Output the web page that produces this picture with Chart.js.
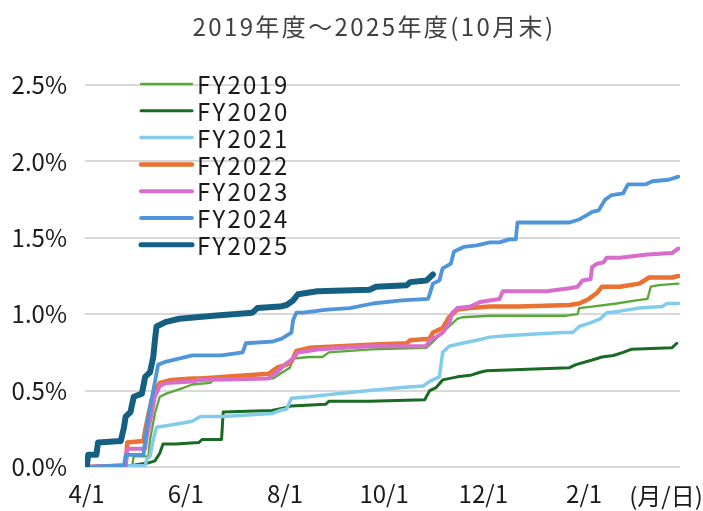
<!DOCTYPE html>
<html lang="ja">
<head>
<meta charset="utf-8">
<script src="https://cdn.jsdelivr.net/npm/chart.js@4/dist/chart.umd.min.js"></script>
<style>
  html, body { margin: 0; padding: 0; background: #fff; }
  #wrap { width: 703px; height: 511px; }
</style>
</head>
<body>
<div id="wrap"><canvas id="fyChart" width="703" height="511"></canvas></div>
<script>
// 4/1からの経過日数, 累計値(%)
const tickDays = [0, 61, 122, 183, 244, 306];
const tickLabels = ["4/1", "6/1", "8/1", "10/1", "12/1", "2/1"];
const seriesNames = ["FY2019", "FY2020", "FY2021", "FY2022", "FY2023", "FY2024", "FY2025"];

const fy2019 = [[0,0],[28,0.01],[29,0.07],[38,0.07],[39,0.18],[42,0.35],[45,0.46],[49,0.48],[60,0.52],[65,0.54],[76,0.55],[78,0.57],[115,0.58],[119,0.61],[125,0.65],[127,0.71],[137,0.72],[145,0.72],[149,0.75],[162,0.76],[175,0.77],[209,0.78],[215,0.84],[219,0.88],[223,0.92],[228,0.97],[231,0.98],[248,0.99],[295,0.99],[302,1.00],[303,1.04],[311,1.05],[326,1.07],[338,1.09],[345,1.10],[347,1.18],[352,1.19],[364,1.20]];
const fy2020 = [[0,0],[28,0.01],[39,0.03],[42,0.04],[45,0.09],[47,0.15],[55,0.15],[69,0.16],[71,0.18],[83,0.18],[84,0.36],[114,0.37],[123,0.39],[126,0.40],[147,0.41],[149,0.43],[174,0.43],[208,0.44],[211,0.50],[215,0.52],[219,0.57],[228,0.59],[236,0.60],[242,0.62],[246,0.63],[297,0.65],[301,0.67],[311,0.70],[317,0.72],[324,0.73],[330,0.75],[335,0.77],[360,0.78],[363,0.81]];
const fy2021 = [[0,0],[36,0.01],[37,0.05],[39,0.07],[41,0.18],[43,0.26],[49,0.27],[60,0.29],[65,0.30],[70,0.33],[84,0.33],[114,0.35],[119,0.37],[123,0.38],[126,0.45],[137,0.46],[154,0.48],[174,0.50],[194,0.52],[207,0.53],[211,0.56],[217,0.59],[219,0.75],[223,0.79],[231,0.81],[240,0.83],[248,0.85],[260,0.86],[293,0.88],[299,0.88],[303,0.92],[309,0.94],[316,0.97],[320,1.01],[328,1.02],[340,1.04],[354,1.05],[357,1.07],[364,1.07]];
const fy2022 = [[0,0],[24,0.01],[25,0.16],[35,0.17],[36,0.24],[40,0.44],[42,0.50],[45,0.55],[52,0.57],[65,0.58],[70,0.58],[112,0.61],[117,0.65],[123,0.67],[126,0.69],[129,0.76],[137,0.78],[174,0.80],[197,0.81],[199,0.83],[211,0.84],[213,0.88],[219,0.91],[223,0.98],[228,1.03],[236,1.04],[248,1.05],[266,1.05],[297,1.06],[303,1.07],[309,1.10],[314,1.14],[317,1.18],[328,1.18],[340,1.20],[346,1.24],[360,1.24],[364,1.25]];
const fy2023 = [[0,0],[24,0.01],[25,0.12],[36,0.12],[37,0.20],[40,0.35],[42,0.46],[45,0.53],[49,0.55],[65,0.56],[70,0.57],[112,0.58],[117,0.62],[123,0.68],[126,0.70],[130,0.75],[143,0.77],[174,0.79],[209,0.79],[211,0.83],[215,0.85],[219,0.88],[223,0.94],[225,1.01],[228,1.04],[236,1.05],[242,1.08],[254,1.10],[256,1.15],[283,1.15],[297,1.17],[302,1.18],[305,1.22],[310,1.23],[311,1.31],[314,1.33],[318,1.34],[320,1.37],[328,1.37],[345,1.39],[360,1.40],[364,1.43]];
const fy2024 = [[0,0],[23,0.01],[24,0.08],[35,0.08],[36,0.18],[38,0.33],[41,0.50],[44,0.67],[49,0.69],[65,0.73],[83,0.73],[96,0.75],[98,0.81],[114,0.82],[120,0.84],[126,0.88],[127,0.96],[129,1.01],[133,1.01],[148,1.03],[162,1.04],[176,1.07],[194,1.09],[210,1.10],[211,1.13],[213,1.20],[217,1.22],[219,1.30],[224,1.33],[226,1.41],[232,1.44],[240,1.45],[248,1.47],[254,1.47],[260,1.49],[264,1.49],[265,1.60],[297,1.60],[303,1.62],[308,1.65],[311,1.67],[315,1.68],[319,1.75],[323,1.78],[330,1.79],[333,1.85],[344,1.85],[348,1.87],[358,1.88],[364,1.90]];
const fy2025 = [[0,0],[1,0.08],[6,0.08],[7,0.16],[21,0.17],[23,0.26],[24,0.33],[27,0.36],[29,0.46],[34,0.48],[36,0.59],[39,0.62],[41,0.72],[42,0.83],[43,0.92],[49,0.95],[57,0.97],[78,0.99],[102,1.01],[105,1.04],[119,1.05],[123,1.06],[127,1.09],[130,1.13],[142,1.15],[174,1.16],[178,1.18],[197,1.19],[199,1.21],[209,1.22],[213,1.26]];

const seriesData = [fy2019, fy2020, fy2021, fy2022, fy2023, fy2024, fy2025];
const lineColors = ["#58a83a", "#196b24", "#83cbeb", "#e97132", "#d86ecc", "#4e95d9", "#156082"];
const lineWidths = [2.3, 3, 3.5, 4.5, 4, 3.8, 6];

const FONT = '"Noto Sans CJK JP", "Noto Sans", sans-serif';

// タイトル・凡例・単位を描くプラグイン
const overlayPlugin = {
  id: "overlay",
  afterDraw(chart) {
    const ctx = chart.ctx;
    ctx.save();
    // タイトル
    ctx.font = "24px " + FONT;
    ctx.fillStyle = "#404040";
    ctx.textAlign = "center";
    ctx.textBaseline = "middle";
    ctx.letterSpacing = "2.4px";
    ctx.fillText("2019年度～2025年度(10月末)", 374, 27);

    // 凡例
    ctx.letterSpacing = "2.2px";
    chart.data.datasets.forEach((ds, i) => {
      const y = 84 + i * 26.8;
      ctx.strokeStyle = ds.borderColor;
      ctx.lineWidth = Math.min(ds.borderWidth, 5);
      ctx.lineCap = "round";
      ctx.beginPath();
      ctx.moveTo(141, y);
      ctx.lineTo(192, y);
      ctx.stroke();
      ctx.fillStyle = "#1a1a1a";
      ctx.textAlign = "left";
      ctx.fillText(ds.label, 197, y + 1);
    });

    // 単位
    ctx.letterSpacing = "0px";
    ctx.fillStyle = "#1a1a1a";
    ctx.textAlign = "center";
    ctx.fillText("(月/日)", 666, 496);
    ctx.restore();
  }
};

const ctx = document.getElementById("fyChart").getContext("2d");

new Chart(ctx, {
  type: "line",
  data: {
    datasets: seriesNames.map((name, i) => ({
      label: name,
      data: seriesData[i].map(([d, v]) => ({ x: d, y: v })),
      borderColor: lineColors[i],
      borderWidth: lineWidths[i],
      borderJoinStyle: "round",
      borderCapStyle: "round",
      pointRadius: 0,
      tension: 0,
      fill: false,
      order: seriesNames.length - i
    }))
  },
  options: {
    responsive: false,
    animation: false,
    devicePixelRatio: 1,
    layout: { padding: { top: 85, right: 23, left: 0, bottom: 0 } },
    plugins: {
      legend: { display: false },
      tooltip: { enabled: false },
      title: { display: false }
    },
    scales: {
      x: {
        type: "linear",
        min: -1,
        max: 365,
        afterBuildTicks: (scale) => {
          scale.ticks = tickDays.map((v) => ({ value: v }));
        },
        afterFit: (scale) => { scale.height = 44; },
        grid: { display: false, drawTicks: false },
        border: { display: false },
        ticks: {
          autoSkip: false,
          maxRotation: 0,
          padding: 12,
          color: "#1a1a1a",
          font: { family: FONT, size: 24 },
          callback: (value) => {
            const k = tickDays.indexOf(value);
            return k >= 0 ? tickLabels[k] : "";
          }
        }
      },
      y: {
        min: 0,
        max: 2.5,
        afterFit: (scale) => { scale.width = 85; },
        grid: { color: "#d9d9d9", lineWidth: 2, drawTicks: false },
        border: { display: false },
        ticks: {
          stepSize: 0.5,
          padding: 18,
          color: "#1a1a1a",
          font: { family: FONT, size: 24 },
          callback: (value) => value.toFixed(1) + "%"
        }
      }
    }
  },
  plugins: [overlayPlugin]
});
</script>
</body>
</html>
